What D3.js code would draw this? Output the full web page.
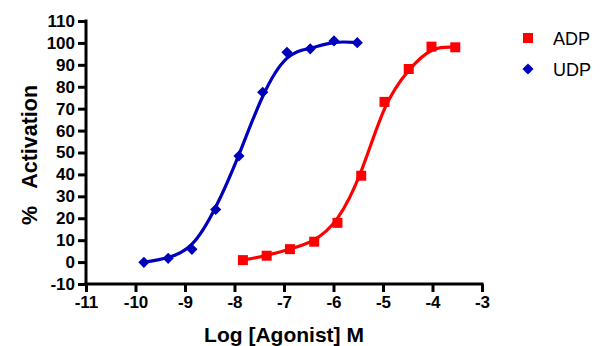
<!DOCTYPE html>
<html><head><meta charset="utf-8">
<script src="https://cdn.jsdelivr.net/npm/d3@7"></script>
<style>body{margin:0;background:#fff}svg{display:block}text{font-family:"Liberation Sans",Arial,sans-serif}</style>
</head><body>
<svg id="c" width="609" height="346"></svg>
<script>
const xTicks = [-11,-10,-9,-8,-7,-6,-5,-4,-3];
const yTicks = [-10,0,10,20,30,40,50,60,70,80,90,100,110];
const seriesNames = ["ADP","UDP"];
const adpX = [-7.83,-7.35,-6.88,-6.39,-5.92,-5.44,-4.97,-4.48,-4.02,-3.54];
const adpY = [0.9,2.9,5.9,9.3,17.9,39.4,73.1,88.1,98.3,98.0];
const udpX = [-9.83,-9.34,-8.86,-8.38,-7.91,-7.43,-6.94,-6.47,-5.99,-5.52];
const udpY = [-0.1,1.7,5.8,24.0,48.4,77.5,95.7,97.3,100.9,100.1];
const colors = ["#FF0000","#0000BB"];

const svg = d3.select("#c");
const x = d3.scaleLinear().domain([-11,-3]).range([86,482]);
const y = d3.scaleLinear().domain([-10,110]).range([284,21]);
const fmt = d => String(d);

const xAxis = svg.append("g").attr("transform","translate(0,284)")
  .call(d3.axisBottom(x).tickValues(xTicks).tickSize(8).tickPadding(4).tickFormat(fmt));
const yAxis = svg.append("g").attr("transform","translate(86,0)")
  .call(d3.axisLeft(y).tickValues(yTicks).tickSize(8).tickPadding(3).tickFormat(fmt));
[xAxis,yAxis].forEach(a=>{
  a.select(".domain").attr("stroke","#000").attr("stroke-width",3);
  a.selectAll(".tick line").attr("stroke","#000").attr("stroke-width",3);
  a.selectAll(".tick text").attr("fill","#000").style("font-size","17px").style("font-weight","bold");
});
xAxis.select(".domain").attr("d","M"+(x(-11)-1.5)+",0H"+(x(-3)+1.5));
yAxis.select(".domain").attr("d","M0,"+(y(-10)+1.5)+"V"+(y(110)-1.5));

const data = [adpX.map((v,i)=>[v,adpY[i]]), udpX.map((v,i)=>[v,udpY[i]])];
const line = d3.line().x(d=>x(d[0])).y(d=>y(d[1])).curve(d3.curveBasis);
data.forEach((s,i)=>{
  svg.append("path").attr("d",line(s)).attr("fill","none").attr("stroke",colors[i]).attr("stroke-width",3.2);
});
// markers
const sq = d3.symbol().type(d3.symbolSquare).size(100);
const dm = d3.symbol().type(d3.symbolDiamond2).size(80);
svg.append("g").selectAll("path").data(data[0]).join("path")
  .attr("d",sq).attr("transform",d=>`translate(${x(d[0])},${y(d[1])})`).attr("fill",colors[0]);
svg.append("g").selectAll("path").data(data[1]).join("path")
  .attr("d",dm).attr("transform",d=>`translate(${x(d[0])},${y(d[1])})`).attr("fill",colors[1]);

// legend
const leg = svg.append("g");
seriesNames.forEach((n,i)=>{
  const gy = 38 + i*31;
  leg.append("path").attr("d", i===0?sq:dm).attr("transform",`translate(528,${gy})`).attr("fill",colors[i]);
  leg.append("text").attr("x",553).attr("y",gy+6.5).text(n).style("font-size","18px").attr("fill","#000");
});

// titles
svg.append("text").attr("x",284).attr("y",341.5).attr("text-anchor","middle")
  .style("font-size","21px").style("font-weight","bold").text("Log [Agonist] M");
svg.append("text").attr("transform","translate(36.5,155) rotate(-90)").attr("text-anchor","middle")
  .style("font-size","21.5px").style("font-weight","bold").style("white-space","pre").text("%   Activation");
</script>
</body></html>
